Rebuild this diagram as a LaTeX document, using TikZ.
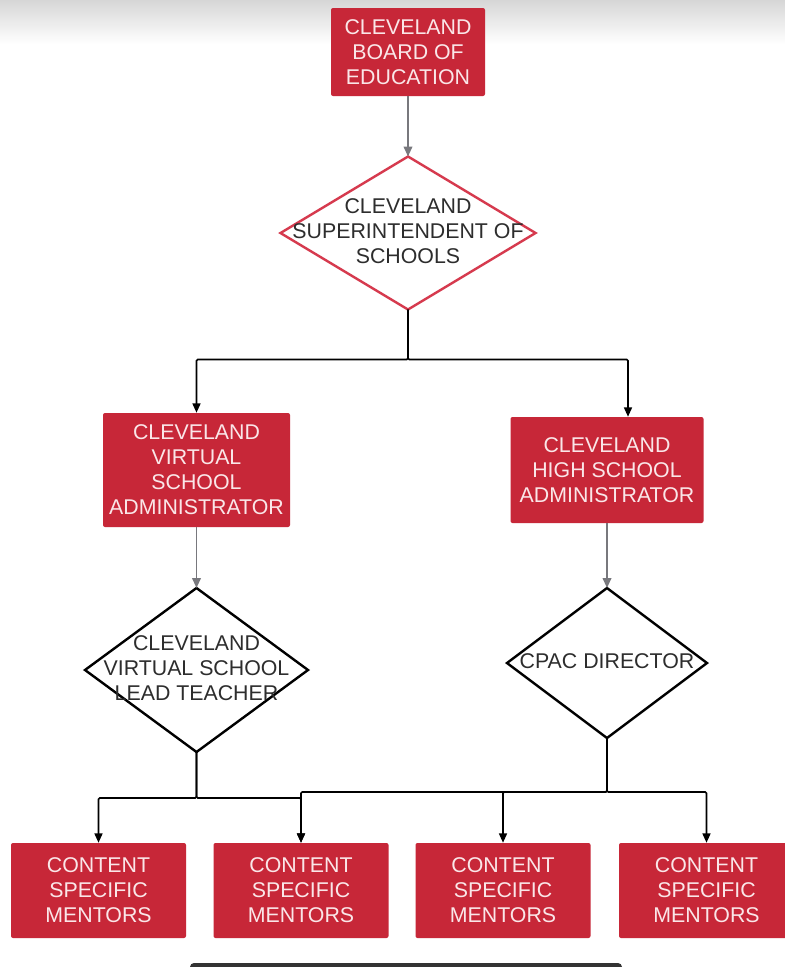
\documentclass[tikz,border=0pt]{standalone}
\usepackage{fontspec}
\setmainfont{Liberation Sans}
\usetikzlibrary{shapes.geometric,arrows.meta}
\definecolor{boxred}{RGB}{199,39,56}
\definecolor{linered}{RGB}{214,58,78}
\definecolor{boxtext}{RGB}{250,230,232}
\definecolor{dtextc}{RGB}{45,45,45}
\definecolor{garr}{RGB}{120,120,125}
\def\u{0.75pt}
\tikzset{
  redbox/.style={fill=boxred, rounded corners=1.5pt, text=boxtext, align=center, inner sep=0pt,
    font=\fontsize{16}{18.75}\selectfont},
  dshape/.style={diamond, fill=white, line width=1.8pt, inner sep=0pt, outer sep=0pt},
  dtext/.style={text=dtextc, align=center, inner sep=0pt, font=\fontsize{16}{18.75}\selectfont},
  garrow/.style={draw=garr, line width=1.3pt, -{Triangle[length=7.5pt,width=6.5pt]}},
  barrow/.style={draw=black, line width=1.2pt, rounded corners=1pt, -{Triangle[length=7pt,width=6pt]}}
}
\begin{document}
\begin{tikzpicture}[x=0.75pt,y=-0.75pt]
\useasboundingbox (0,0) rectangle (785,967);
\clip (0,0) rectangle (785,967);
\fill[white] (0,0) rectangle (785,967);
\shade[top color=black!16, bottom color=white] (0,0) rectangle (785,44);
\fill[black!80, rounded corners=3pt] (190,963) rectangle (622,975);

% nodes
\node[redbox, minimum width=154*\u, minimum height=88*\u] (board) at (408,52)
  {CLEVELAND\\BOARD OF\\EDUCATION};
\node[dshape, draw=linered, minimum width=255*\u, minimum height=153*\u] (sup) at (408,233) {};
\node[dtext] (supt) at (408,231) {CLEVELAND\\SUPERINTENDENT OF\\SCHOOLS};

\node[redbox, minimum width=187*\u, minimum height=114*\u] (vsa) at (196.5,470)
  {CLEVELAND\\VIRTUAL\\SCHOOL\\ADMINISTRATOR};
\node[redbox, minimum width=193*\u, minimum height=106*\u] (hsa) at (607,470)
  {CLEVELAND\\HIGH SCHOOL\\ADMINISTRATOR};

\node[dshape, draw=black, minimum width=223*\u, minimum height=164*\u] (vlt) at (196.5,670) {};
\node[dtext] (vltt) at (196.5,668) {CLEVELAND\\VIRTUAL SCHOOL\\LEAD TEACHER};
\node[dshape, draw=black, minimum width=200*\u, minimum height=150*\u] (cpac) at (607,663) {};
\node[dtext] (cpact) at (607,661) {CPAC DIRECTOR};

\foreach \n/\x in {m1/98.5, m2/301, m3/503, m4/706.5}{
  \node[redbox, minimum width=175*\u, minimum height=95*\u] (\n) at (\x,890.5)
    {CONTENT\\SPECIFIC\\MENTORS};
}

% connectors
\draw[garrow] (board.south) -- (sup.north);
\draw[barrow] (sup.south) -- ++(0,50) -| (vsa.north);
\draw[barrow] (sup.south) -- ++(0,50) -| ([xshift=21*\u]hsa.north);
\draw[garrow] (vsa.south) -- (vlt.north);
\draw[garrow] (hsa.south) -- (cpac.north);
\draw[barrow] (vlt.south) -- ++(0,46) -| (m1.north);
\draw[barrow] (vlt.south) -- ++(0,46) -| (m2.north);
\draw[barrow] (cpac.south) -- ++(0,54) -| (m2.north);
\draw[barrow] (cpac.south) -- ++(0,54) -| (m3.north);
\draw[barrow] (cpac.south) -- ++(0,54) -| (m4.north);
\end{tikzpicture}
\end{document}
